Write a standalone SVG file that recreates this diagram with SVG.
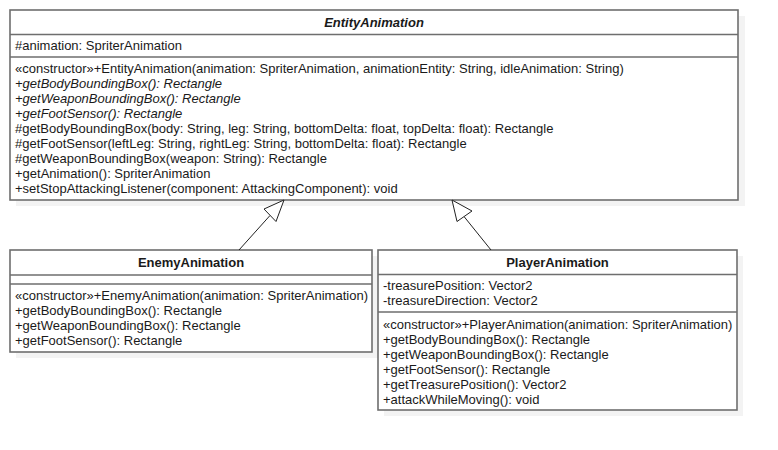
<svg xmlns="http://www.w3.org/2000/svg" width="778" height="450" viewBox="0 0 778 450">
<style>
.box{fill:#ffffff;stroke:#6e6e6e;stroke-width:1.6}
.shadow{fill:#f3f3f3}
.div{stroke:#6e6e6e;stroke-width:1.6}
text{font-family:"Liberation Sans",Arial,sans-serif;font-size:13px;fill:#1a1a1a}
.title{font-weight:bold;text-anchor:middle}
.it{font-style:italic}
.conn{stroke:#222;stroke-width:1;fill:none}
.head{fill:#fff;stroke:#222;stroke-width:1}
</style>
<g id="EntityAnimation">
<rect class="shadow" x="16" y="16" width="729" height="190"/>
<rect class="box" x="10" y="10" width="728" height="190"/>
<line class="div" x1="10" y1="34.5" x2="738" y2="34.5"/>
<line class="div" x1="10" y1="57" x2="738" y2="57"/>
<text class="title it" x="374" y="27">EntityAnimation</text>
<text x="15" y="50">#animation: SpriterAnimation</text>
<text x="15" y="73">«constructor»+EntityAnimation(animation: SpriterAnimation, animationEntity: String, idleAnimation: String)</text>
<text class="it" x="15" y="88">+getBodyBoundingBox(): Rectangle</text>
<text class="it" x="15" y="103">+getWeaponBoundingBox(): Rectangle</text>
<text class="it" x="15" y="118">+getFootSensor(): Rectangle</text>
<text x="15" y="133">#getBodyBoundingBox(body: String, leg: String, bottomDelta: float, topDelta: float): Rectangle</text>
<text x="15" y="148">#getFootSensor(leftLeg: String, rightLeg: String, bottomDelta: float): Rectangle</text>
<text x="15" y="163">#getWeaponBoundingBox(weapon: String): Rectangle</text>
<text x="15" y="178">+getAnimation(): SpriterAnimation</text>
<text x="15" y="193">+setStopAttackingListener(component: AttackingComponent): void</text>
</g>
<g id="EnemyAnimation">
<rect class="shadow" x="16" y="256" width="362" height="102"/>
<rect class="box" x="10" y="250" width="362" height="102"/>
<line class="div" x1="10" y1="275" x2="372" y2="275"/>
<line class="div" x1="10" y1="284" x2="372" y2="284"/>
<text class="title" x="191" y="267">EnemyAnimation</text>
<text x="15" y="300">«constructor»+EnemyAnimation(animation: SpriterAnimation)</text>
<text x="15" y="315">+getBodyBoundingBox(): Rectangle</text>
<text x="15" y="330">+getWeaponBoundingBox(): Rectangle</text>
<text x="15" y="345">+getFootSensor(): Rectangle</text>
</g>
<g id="PlayerAnimation">
<rect class="shadow" x="384" y="256" width="359" height="160"/>
<rect class="box" x="378" y="250" width="359" height="160"/>
<line class="div" x1="378" y1="274.5" x2="737" y2="274.5"/>
<line class="div" x1="378" y1="312" x2="737" y2="312"/>
<text class="title" x="557.5" y="267">PlayerAnimation</text>
<text x="383" y="290">-treasurePosition: Vector2</text>
<text x="383" y="305">-treasureDirection: Vector2</text>
<text x="383" y="329">«constructor»+PlayerAnimation(animation: SpriterAnimation)</text>
<text x="383" y="344">+getBodyBoundingBox(): Rectangle</text>
<text x="383" y="359">+getWeaponBoundingBox(): Rectangle</text>
<text x="383" y="374">+getFootSensor(): Rectangle</text>
<text x="383" y="389">+getTreasurePosition(): Vector2</text>
<text x="383" y="404">+attackWhileMoving(): void</text>
</g>
<g id="connectors">
<line class="conn" x1="239" y1="250" x2="270" y2="215.5"/>
<polygon class="head" points="284,200 264,209 276,221.5"/>
<line class="conn" x1="491" y1="250" x2="464" y2="216.5"/>
<polygon class="head" points="452,200 472,211 457,221.5"/>
</g>
</svg>
